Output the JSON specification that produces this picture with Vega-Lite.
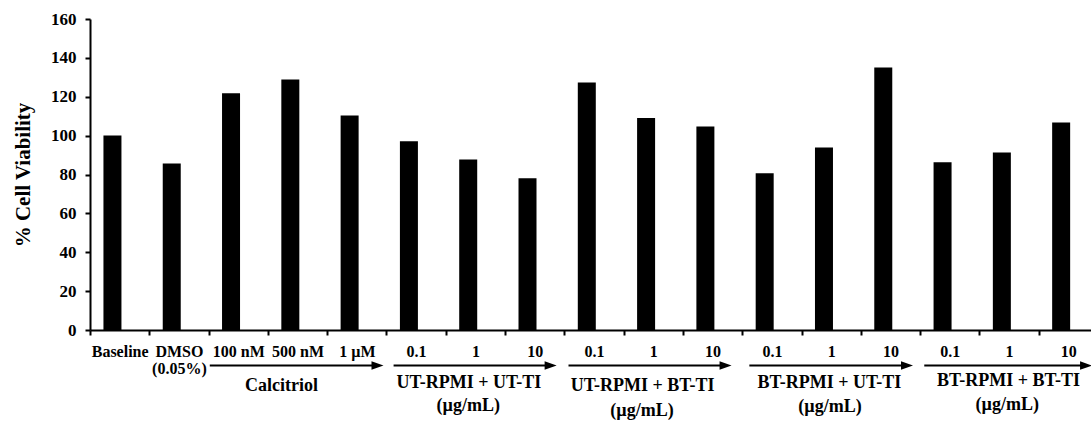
{
  "$schema": "https://vega.github.io/schema/vega-lite/v6.json",
  "width": 1001,
  "height": 311,
  "autosize": {"type": "none"},
  "padding": {"left": 90, "top": 19, "right": 0, "bottom": 91},
  "background": "white",
  "config": {"view": {"stroke": null}, "font": "'Liberation Serif', 'Times New Roman', serif"},
  "resolve": {"scale": {"x": "independent", "y": "independent"}},
  "layer": [
    {
      "data": {"values": [
        {"treatment": "Control: Baseline", "viability": 100.1},
        {"treatment": "Control: DMSO|(0.05%)", "viability": 85.7},
        {"treatment": "Calcitriol: 100 nM", "viability": 121.8},
        {"treatment": "Calcitriol: 500 nM", "viability": 128.9},
        {"treatment": "Calcitriol: 1 µM", "viability": 110.4},
        {"treatment": "UT-RPMI + UT-TI: 0.1", "viability": 97.1},
        {"treatment": "UT-RPMI + UT-TI: 1", "viability": 87.7},
        {"treatment": "UT-RPMI + UT-TI: 10", "viability": 78.1},
        {"treatment": "UT-RPMI + BT-TI: 0.1", "viability": 127.3},
        {"treatment": "UT-RPMI + BT-TI: 1", "viability": 109.1},
        {"treatment": "UT-RPMI + BT-TI: 10", "viability": 104.7},
        {"treatment": "BT-RPMI + UT-TI: 0.1", "viability": 80.7},
        {"treatment": "BT-RPMI + UT-TI: 1", "viability": 93.9},
        {"treatment": "BT-RPMI + UT-TI: 10", "viability": 135.0},
        {"treatment": "BT-RPMI + BT-TI: 0.1", "viability": 86.3},
        {"treatment": "BT-RPMI + BT-TI: 1", "viability": 91.3},
        {"treatment": "BT-RPMI + BT-TI: 10", "viability": 106.8}
      ]},
      "mark": {"type": "bar", "color": "black", "width": 18, "xOffset": -7.2},
      "encoding": {
        "x": {
          "field": "treatment", "type": "nominal", "sort": null,
          "scale": {"range": [0, 1008], "paddingInner": 0, "paddingOuter": 0},
          "axis": {
            "title": null, "labelAngle": 0, "tickBand": "extent",
            "labelExpr": "split(slice(datum.label, indexof(datum.label, ': ') + 2), '|')",
            "labelFont": "'Liberation Serif', 'Times New Roman', serif", "labelFontSize": 16, "labelFontWeight": "bold",
            "labelColor": "black", "labelPadding": 8, "labelLineHeight": 17,
            "labelOverlap": false, "labelBound": false,
            "domainColor": "black", "domainWidth": 2,
            "tickColor": "black", "tickWidth": 2, "tickSize": 5
          }
        },
        "y": {
          "field": "viability", "type": "quantitative",
          "scale": {"domain": [0, 160], "nice": false},
          "axis": {
            "title": "% Cell Viability", "values": [0, 20, 40, 60, 80, 100, 120, 140, 160],
            "grid": false,
            "labelFont": "'Liberation Serif', 'Times New Roman', serif", "labelFontSize": 17, "labelFontWeight": "bold",
            "labelColor": "black", "labelPadding": 9,
            "titleFont": "'Liberation Serif', 'Times New Roman', serif", "titleFontSize": 21, "titleFontWeight": "bold",
            "titleColor": "black", "titlePadding": 17,
            "domainColor": "black", "domainWidth": 2,
            "tickColor": "black", "tickWidth": 2, "tickSize": 5
          }
        }
      }
    },
    {
      "data": {"values": [
        {"group": "Calcitriol", "start": 2.02, "end": 4.95, "level": -18.3},
        {"group": "UT-RPMI + UT-TI", "start": 5.12, "end": 7.87, "level": -18.3},
        {"group": "UT-RPMI + BT-TI", "start": 8.07, "end": 10.82, "level": -18.3},
        {"group": "BT-RPMI + UT-TI", "start": 11.12, "end": 13.88, "level": -18.3},
        {"group": "BT-RPMI + BT-TI", "start": 14.07, "end": 16.9, "level": -18.3}
      ]},
      "layer": [
        {
          "mark": {"type": "rule", "color": "black", "strokeWidth": 2, "x2Offset": -6},
          "encoding": {
            "x": {"field": "start", "type": "quantitative", "scale": {"domain": [0, 17], "range": [0, 1008], "nice": false, "zero": false}, "axis": null},
            "x2": {"field": "end"},
            "y": {"field": "level", "type": "quantitative", "scale": {"domain": [0, 160], "nice": false}, "axis": null}
          }
        },
        {
          "mark": {"type": "point", "shape": "M0,0L-2,-0.7L-2,0.7Z", "size": 144, "filled": true, "color": "black", "opacity": 1, "strokeWidth": 0},
          "encoding": {
            "x": {"field": "end", "type": "quantitative", "scale": {"domain": [0, 17], "range": [0, 1008], "nice": false, "zero": false}, "axis": null},
            "y": {"field": "level", "type": "quantitative", "scale": {"domain": [0, 160], "nice": false}, "axis": null}
          }
        }
      ]
    },
    {
      "data": {"values": [
        {"label": "Calcitriol", "pos": 3.23, "level": -31.4},
        {"label": "UT-RPMI + UT-TI", "pos": 6.39, "level": -29.6},
        {"label": "(µg/mL)", "pos": 6.38, "level": -41.7},
        {"label": "UT-RPMI + BT-TI", "pos": 9.32, "level": -31.6},
        {"label": "(µg/mL)", "pos": 9.31, "level": -44.0},
        {"label": "BT-RPMI + UT-TI", "pos": 12.47, "level": -29.8},
        {"label": "(µg/mL)", "pos": 12.48, "level": -42.2},
        {"label": "BT-RPMI + BT-TI", "pos": 15.49, "level": -28.8},
        {"label": "(µg/mL)", "pos": 15.47, "level": -41.2}
      ]},
      "mark": {"type": "text", "font": "'Liberation Serif', 'Times New Roman', serif", "fontSize": 18, "fontWeight": "bold", "color": "black", "align": "center", "baseline": "alphabetic"},
      "encoding": {
        "x": {"field": "pos", "type": "quantitative", "scale": {"domain": [0, 17], "range": [0, 1008], "nice": false, "zero": false}, "axis": null},
        "y": {"field": "level", "type": "quantitative", "scale": {"domain": [0, 160], "nice": false}, "axis": null},
        "text": {"field": "label", "type": "nominal"}
      }
    }
  ]
}
